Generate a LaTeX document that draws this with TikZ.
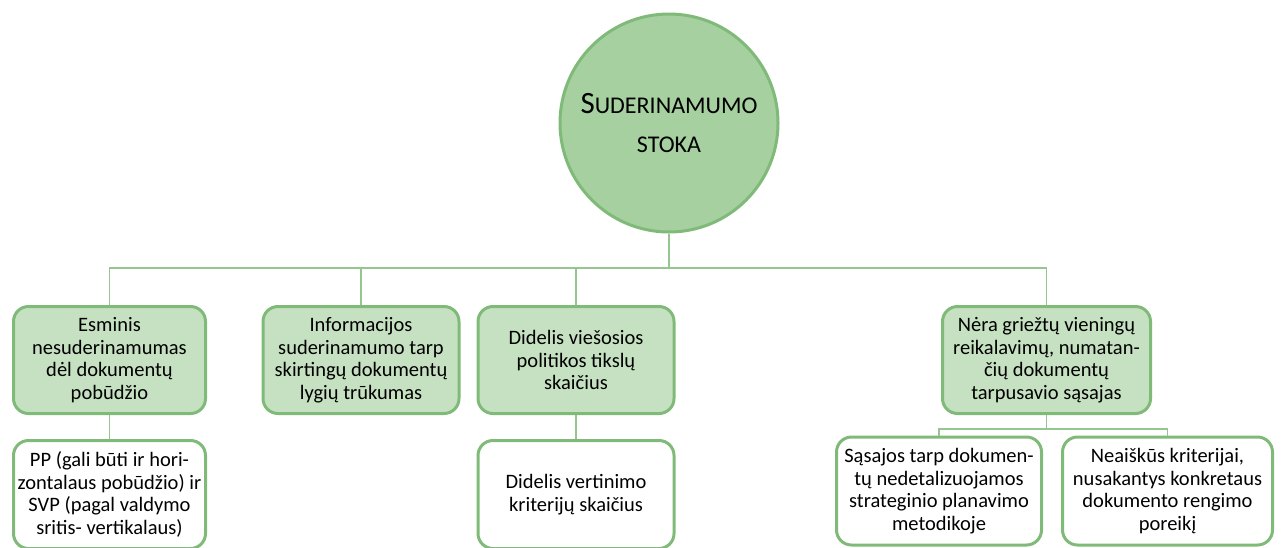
\documentclass[tikz,border=0pt]{standalone}
\usepackage{fontspec}
\setmainfont{Carlito}
\usepackage{tikz}
\usetikzlibrary{positioning,shapes}
\usepackage{xcolor}
\definecolor{sgborder}{RGB}{128,186,120}
\definecolor{sgline}{RGB}{150,198,143}
\definecolor{sgcircle}{RGB}{166,208,160}
\definecolor{sglight}{RGB}{198,225,193}
\tikzstyle{link} = [line width=1.5pt,color=sgline]
\tikzstyle{rootcircle} = [circle, minimum size=218pt, draw=sgborder, fill=sgcircle, line width=3pt, align=center, font=\fontsize{24}{39}\selectfont]
\tikzstyle{causebox} = [rectangle, rounded corners=15pt, minimum height=107pt, inner xsep=2pt, text centered, align=center, draw=sgborder, fill=sglight, line width=3pt, font=\fontsize{20.5}{22.5}\selectfont]
\tikzstyle{subbox} = [rectangle, rounded corners=15pt, minimum height=108pt, inner xsep=2pt, text centered, align=center, draw=sgborder, fill=white, line width=3pt, font=\fontsize{20.5}{22.5}\selectfont]

\begin{document}
\begin{tikzpicture}[x=1pt,y=-1pt]
\useasboundingbox (0,0) rectangle (1281,547);
% Root
\node[rootcircle] (root) at (669,123) {{\fontsize{31}{39}\selectfont S}UDERINAMUMO\\STOKA};

% Causes
\node[causebox, minimum width=192pt] (e1) at (109.5,360) {Esminis\\nesuderinamumas\\dėl dokumentų\\pobūdžio};
\node[causebox, minimum width=196pt] (e2) at (361,360) {Informacijos\\suderinamumo tarp\\skirtingų dokumentų\\lygių trūkumas};
\node[causebox, minimum width=196pt] (e3) at (576,360) {Didelis viešosios\\politikos tikslų\\skaičius};
\node[causebox, minimum width=208pt] (e4) at (1046.5,360) {Nėra griežtų vieningų\\reikalavimų, numatan-\\čių dokumentų\\tarpusavio sąsajas};

% Sub-causes
\node[subbox, minimum width=192pt, below=24pt of e1] (s1) {PP (gali būti ir hori-\\zontalaus pobūdžio) ir\\SVP (pagal valdymo\\sritis- vertikalaus)};
\node[subbox, minimum width=196pt, below=24pt of e3] (s3) {Didelis vertinimo\\kriterijų skaičius};
\node[subbox, minimum width=205pt] (s4a) at (939,491) {Sąsajos tarp dokumen-\\tų nedetalizuojamos\\strateginio planavimo\\metodikoje};
\node[subbox, minimum width=210pt] (s4b) at (1167.5,491) {Neaiškūs kriterijai,\\nusakantys konkretaus\\dokumento rengimo\\poreikį};

% Connectors
\coordinate (bus) at (669,268);
\coordinate (bus2) at (1046.5,429);
\draw[link] (root) -- (bus);
\foreach \n in {e1,e2,e3,e4}
  \draw[link] (bus) -| (\n.north);
\draw[link] (e1) -- (s1);
\draw[link] (e3) -- (s3);
\draw[link] (e4) -- (bus2);
\foreach \n in {s4a,s4b}
  \draw[link] (bus2) -| (\n.north);
\end{tikzpicture}
\end{document}
